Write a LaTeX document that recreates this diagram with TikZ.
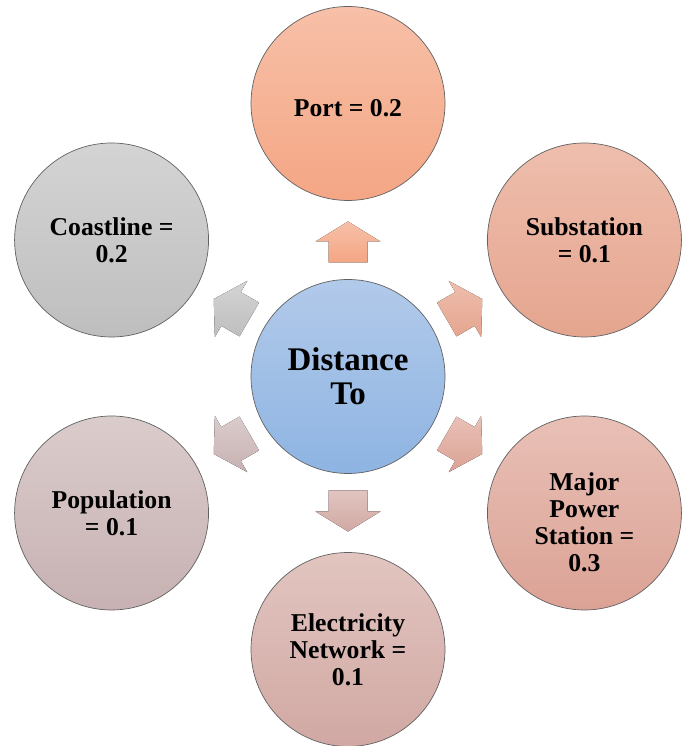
\documentclass[tikz,border=0pt]{standalone}
\usepackage{fontspec}
\setmainfont{Liberation Serif}
\usetikzlibrary{calc}

% fills: (top, bottom) of each vertical gradient
\definecolor{hubtop}{RGB}{178,202,234}
\definecolor{hubbot}{RGB}{142,180,226}
\definecolor{porttop}{RGB}{247,192,168}
\definecolor{portbot}{RGB}{244,166,132}
\definecolor{subtop}{RGB}{238,190,173}
\definecolor{subbot}{RGB}{229,165,143}
\definecolor{majtop}{RGB}{233,192,182}
\definecolor{majbot}{RGB}{219,162,149}
\definecolor{electop}{RGB}{226,197,192}
\definecolor{elecbot}{RGB}{209,168,163}
\definecolor{poptop}{RGB}{219,204,204}
\definecolor{popbot}{RGB}{199,177,178}
\definecolor{coasttop}{RGB}{212,212,212}
\definecolor{coastbot}{RGB}{190,190,190}

% block arrow pointing out of the hub: angle, top colour, bottom colour
\newcommand\radialarrow[3]{%
  \fill[top color=#2, bottom color=#3, shift={(hub.center)}, rotate=#1]
    (114,-19.5) -- (135,-19.5) -- (135,-32.5) -- (155,0)
    -- (135,32.5) -- (135,19.5) -- (114,19.5) -- cycle;}

\begin{document}
\begin{tikzpicture}[x=1pt, y=1pt,
  bubble/.style={circle, minimum size=194pt, inner sep=0pt,
    draw=black!62, line width=0.7pt, align=center,
    font=\bfseries\fontsize{25.7}{27}\selectfont},
  bubbletext/.style={align=center, inner sep=0pt,
    font=\bfseries\fontsize{25.7}{27}\selectfont},
  hubbubble/.style={bubble, font=\bfseries\fontsize{33}{34}\selectfont}]
\useasboundingbox (0,0) rectangle (688,746);

% central circle
\node[hubbubble, top color=hubtop, bottom color=hubbot] (hub) at (348,369.5) {Distance\\To};

% surrounding factors
\node[bubble, top color=porttop, bottom color=portbot] (port)
  at ($(hub)+(90:273)$) {};
\node[bubbletext] (porttext) at ([yshift=-5pt]port.center) {Port = 0.2};
\node[bubble, top color=subtop, bottom color=subbot] (sub)
  at ($(hub)+(30:273)$) {Substation\\= 0.1};
\node[bubble, top color=majtop, bottom color=majbot] (major)
  at ($(hub)+(-30:273)$) {};
\node[bubbletext] (majortext) at ([yshift=-9pt]major.center)
  {Major\\Power\\Station =\\0.3};
\node[bubble, top color=electop, bottom color=elecbot] (elec)
  at ($(hub)+(-90:273)$) {Electricity\\Network =\\0.1};
\node[bubble, top color=poptop, bottom color=popbot] (pop)
  at ($(hub)+(-150:273)$) {Population\\= 0.1};
\node[bubble, top color=coasttop, bottom color=coastbot] (coast)
  at ($(hub)+(150:273)$) {Coastline =\\0.2};

% arrows from the hub towards each factor
\radialarrow{90}{porttop}{portbot}
\radialarrow{30}{subtop}{subbot}
\radialarrow{-30}{majtop}{majbot}
\radialarrow{-90}{electop}{elecbot}
\radialarrow{-150}{poptop}{popbot}
\radialarrow{150}{coasttop}{coastbot}
\end{tikzpicture}
\end{document}
